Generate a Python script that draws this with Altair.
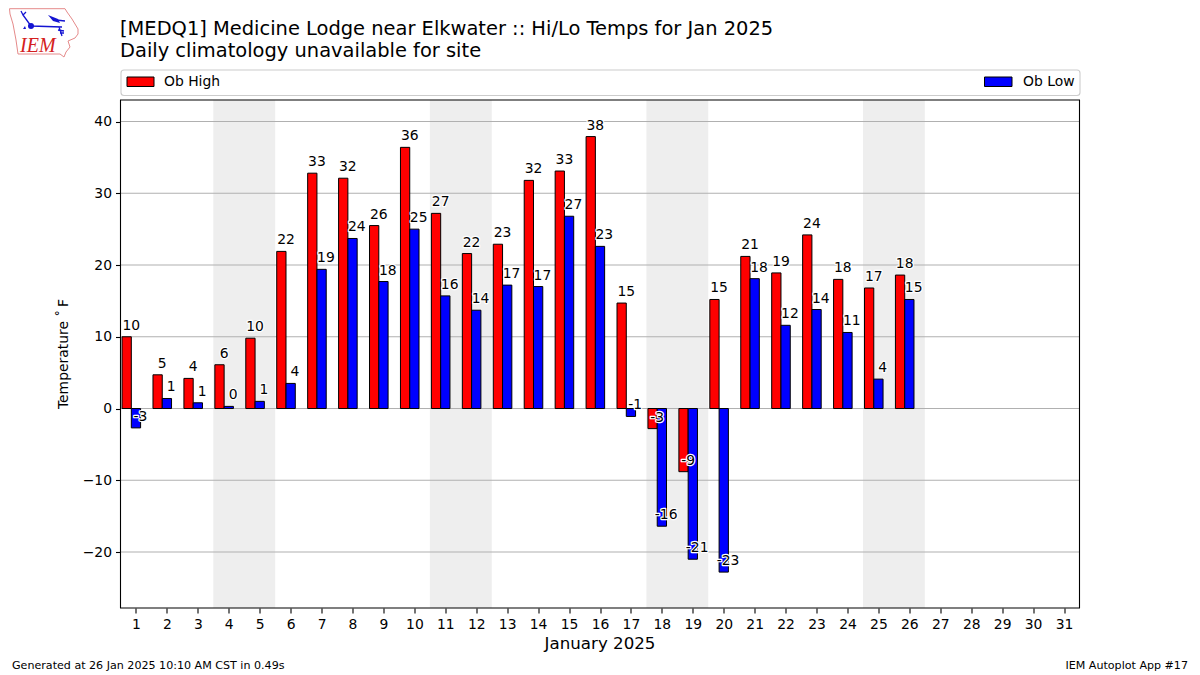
import urllib.parse
import altair as alt
import pandas as pd

days = list(range(1, 27))
highs = [10.0, 4.7, 4.2, 6.1, 9.8, 21.9, 32.8, 32.1, 25.5, 36.4, 27.2, 21.6, 22.9,
         31.8, 33.1, 37.9, 14.7, -2.8, -8.8, 15.2, 21.2, 18.9, 24.2, 18.0, 16.8, 18.6]
lows = [-2.7, 1.4, 0.8, 0.3, 1.0, 3.5, 19.4, 23.7, 17.7, 25.0, 15.7, 13.7, 17.2,
        17.0, 26.8, 22.6, -1.1, -16.4, -21.0, -22.8, 18.1, 11.6, 13.8, 10.6, 4.1, 15.2]
high_labels = ["10", "5", "4", "6", "10", "22", "33", "32", "26", "36", "27", "22", "23", "32", "33", "38", "15",
               "-3", "-9", "15", "21", "19", "24", "18", "17", "18"]
low_labels = ["-3", "1", "1", "0", "1", "4", "19", "24", "18", "25", "16", "14", "17", "17", "27", "23", "-1",
              "-16", "-21", "-23", "18", "12", "14", "11", "4", "15"]
band_start = [3.5, 10.5, 17.5, 24.5]
band_end = [5.5, 12.5, 19.5, 26.5]
y_ticks = [-20, -10, 0, 10, 20, 30, 40]
x_ticks = list(range(1, 32))

FONT = "DejaVu Sans"
L, T = 112.5, 92  # plot-area origin inside the canvas
OX, OY = 120.5, 100  # plot-area origin in the page

logo_svg = """<svg xmlns='http://www.w3.org/2000/svg' width='80' height='60' viewBox='0 0 80 60'>
<path d='M9.5 8.7 L65 8.7 L67 12 L72 19 L78 29 L78 34 L75 38 L68 41 L70 47 L66 52 L64 57 L60 54 L18 54 L16 40 L13 24 L10 14 Z' fill='white' stroke='#e58a8a' stroke-width='1'/>
<g stroke='#1414d2' fill='none' stroke-width='1.3'>
<path d='M31 26 L62 27 M31 26 L23 15 L26 12 M23 15 L21 11 M56 20 L65 21 M59 27 L62 36 M58 30 L64 31 M60 33 L64 33'/>
</g>
<circle cx='31' cy='26' r='3' fill='#1414d2'/>
<path d='M48 15 L58 19 L60 23 L53 21 Z' fill='#1414d2'/>
<path d='M23 29 L25 26 L26 29 Z' fill='#1414d2'/>
<text x='20' y='52' font-family='Liberation Serif' font-style='italic' font-size='20' fill='#d42020'>IEM</text>
</svg>"""
logo_url = "data:image/svg+xml," + urllib.parse.quote(logo_svg)

x_scale = alt.Scale(domain=[0.5, 31.5], nice=False, zero=False)
y_scale = alt.Scale(domain=[-27.8, 43.0], nice=False, zero=False)

df_high = pd.DataFrame({"day": days, "v": highs, "lab": high_labels})
df_high["x0"] = df_high.day - 0.45
df_high["x1"] = df_high.day - 0.15
df_high["tx"] = df_high.day - 0.15
df_low = pd.DataFrame({"day": days, "v": lows, "lab": low_labels})
df_low["x0"] = df_low.day - 0.15
df_low["x1"] = df_low.day + 0.15
df_low["tx"] = df_low.day + 0.14
for d in (df_high, df_low):
    d["zero"] = 0

X_AX = alt.Axis(values=x_ticks, title=None, grid=False, domain=False, labelFont=FONT, labelFontSize=13.9,
                labelColor="black", tickColor="black", tickSize=5, tickWidth=1.1, labelPadding=4, labelFlush=False,
                labelOverlap=False, format="d")
Y_AX = alt.Axis(values=y_ticks, title=None, grid=False, domain=False, labelFont=FONT, labelFontSize=13.9,
                labelColor="black", tickColor="black", tickSize=5, tickWidth=1.1, labelPadding=4,
                labelExpr="replace(datum.label, '-', '\u2212')")

bands = alt.Chart(pd.DataFrame({"a": band_start, "b": band_end})).mark_rect(color="#eeeeee").encode(
    x=alt.X("a:Q", scale=x_scale, axis=X_AX), x2="b:Q",
    y=alt.value(0), y2=alt.value(508),
)
grid = alt.Chart(pd.DataFrame({"t": y_ticks})).mark_rule(color="#b0b0b0", strokeWidth=1.1).encode(
    y=alt.Y("t:Q", scale=y_scale, axis=Y_AX),
)


def bars(df, color):
    return alt.Chart(df).mark_rect(color=color, stroke="black", strokeWidth=1).encode(
        x=alt.X("x0:Q", scale=x_scale, axis=X_AX), x2="x1:Q",
        y=alt.Y("v:Q", scale=y_scale, axis=Y_AX), y2="zero:Q",
    )


def labels(df):
    enc = dict(x=alt.X("tx:Q", scale=x_scale, axis=X_AX), y=alt.Y("v:Q", scale=y_scale, axis=Y_AX),
               text=alt.Text("lab:N"))
    kw = dict(font=FONT, fontSize=13.9, align="center", baseline="alphabetic", dy=-7)
    halo = alt.Chart(df).mark_text(stroke="white", strokeWidth=2.4, strokeJoin="round", fill="white", **kw).encode(**enc)
    txt = alt.Chart(df).mark_text(color="black", **kw).encode(**enc)
    return halo + txt


one = pd.DataFrame({"a": [0]})


def page_text(text, px, py, size, align="left", angle=None, baseline="middle"):
    kw = dict(text=text, font=FONT, fontSize=size, align=align, baseline=baseline, color="black")
    if angle is not None:
        kw["angle"] = angle
    return alt.Chart(one).mark_text(**kw).encode(x=alt.value(px - OX), y=alt.value(py - OY))


def page_rect(x0, x1, y0, y1, **kw):
    return alt.Chart(one).mark_rect(**kw).encode(
        x=alt.value(x0 - OX), x2=alt.value(x1 - OX), y=alt.value(y0 - OY), y2=alt.value(y1 - OY))


logo = alt.Chart(one).mark_image(url=logo_url, width=80, height=60, align="left", baseline="top").encode(
    x=alt.value(0 - OX), y=alt.value(0 - OY))

chart = alt.layer(
    bands, grid, bars(df_high, "#ff0000"), bars(df_low, "#0000ff"), labels(df_high), labels(df_low),
    page_rect(OX, OX + 959, OY, OY + 508, fill="white", fillOpacity=0, stroke="black", strokeWidth=1.1),
    page_rect(121, 1080, 70, 95.5, fill="white", stroke="#cccccc", strokeWidth=1.1, cornerRadius=3),
    page_rect(127, 154, 77, 86.5, fill="#ff0000", stroke="black", strokeWidth=1),
    page_rect(984.5, 1012, 77, 86.5, fill="#0000ff", stroke="black", strokeWidth=1),
    page_text("Ob High", 164, 82, 13.9),
    page_text("Ob Low", 1023, 82, 13.9),
    page_text("[MEDQ1] Medicine Lodge near Elkwater :: Hi/Lo Temps for Jan 2025", 120, 29, 19.44),
    page_text("Daily climatology unavailable for site", 120, 51, 19.44),
    page_text("January 2025", 600, 644, 16.67, align="center"),
    page_text("Temperature \u02da\u2009F", 64, 354, 13.9, align="center", angle=270),
    page_text("Generated at 26 Jan 2025 10:10 AM CST in 0.49s", 12, 666, 11.1),
    page_text("IEM Autoplot App #17", 1188, 666, 11.1, align="right"),
    logo,
).properties(
    width=959, height=508,
    padding={"left": L, "top": T, "right": 112, "bottom": 66},
    autosize=alt.AutoSizeParams(type="none"),
).configure_view(stroke=None)

chart.save("out.html", embed_options={"renderer": "svg", "actions": False})
